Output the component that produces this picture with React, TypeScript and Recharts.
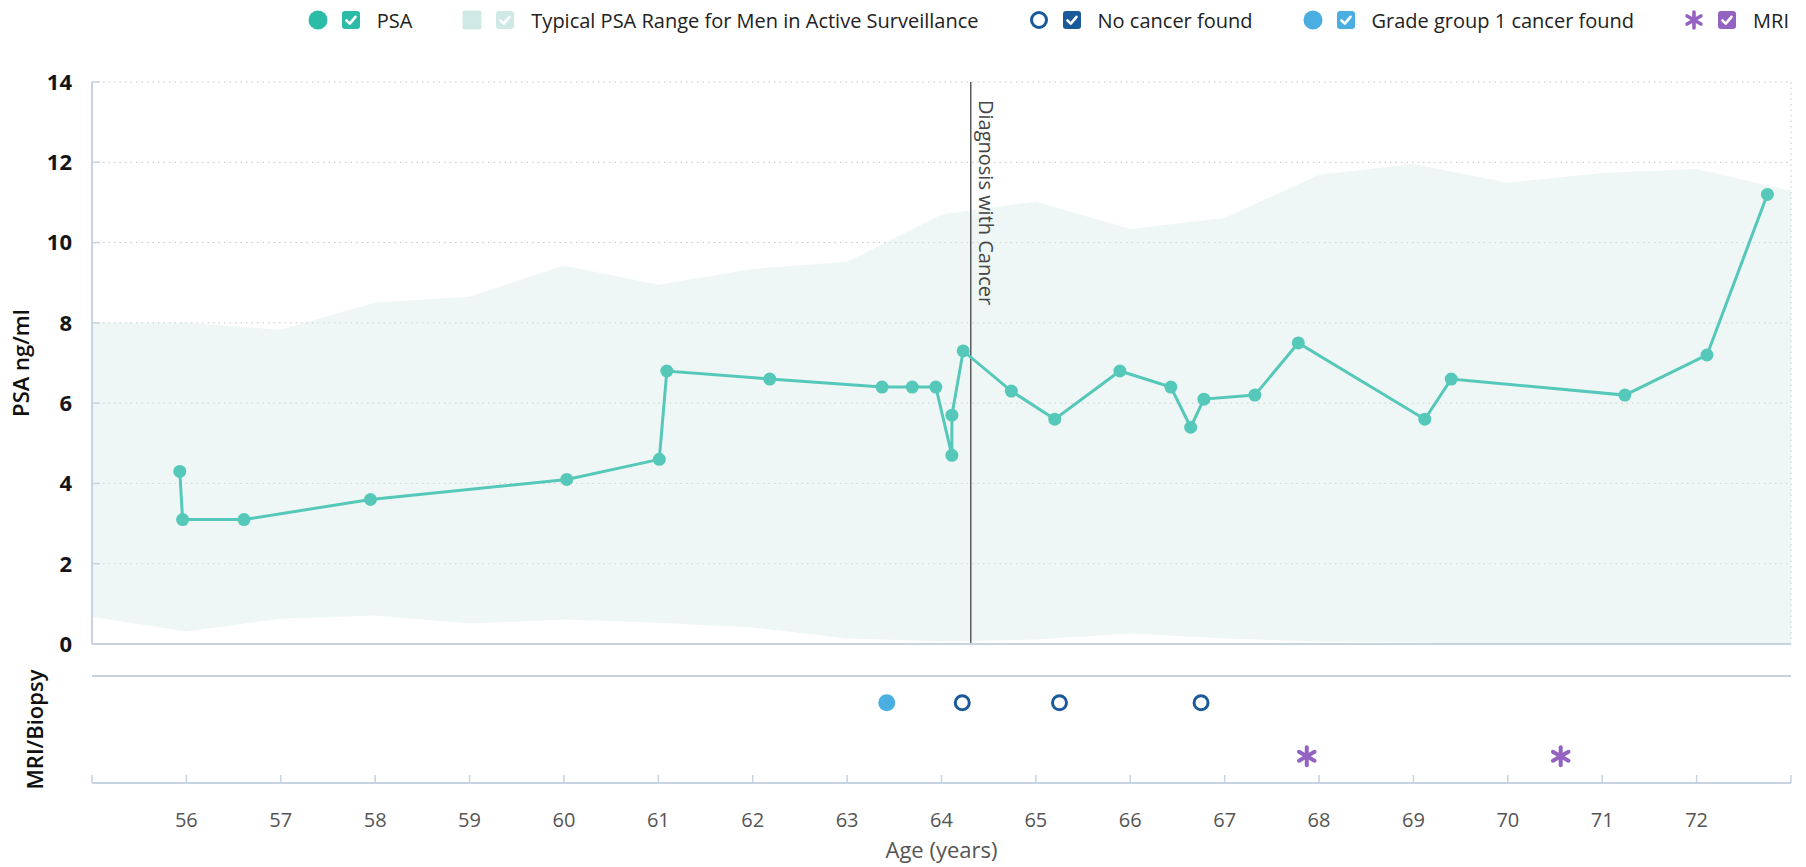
import React from 'react'
import { ComposedChart, Line, Area, Scatter, XAxis, YAxis, CartesianGrid, ReferenceLine } from 'recharts'

const ageTicks = [55, 56, 57, 58, 59, 60, 61, 62, 63, 64, 65, 66, 67, 68, 69, 70, 71, 72, 73]
const psaTicks = [0, 2, 4, 6, 8, 10, 12, 14]

// PSA measurements (age in years, ng/ml)
const psaAges = [55.93, 55.96, 56.61, 57.95, 60.03, 61.01, 61.09, 62.18, 63.37, 63.69, 63.94, 64.11, 64.11, 64.23, 64.74, 65.2, 65.89, 66.43, 66.64, 66.78, 67.32, 67.78, 69.12, 69.4, 71.24, 72.11, 72.75]
const psaValues = [4.3, 3.1, 3.1, 3.6, 4.1, 4.6, 6.8, 6.6, 6.4, 6.4, 6.4, 4.7, 5.7, 7.3, 6.3, 5.6, 6.8, 6.4, 5.4, 6.1, 6.2, 7.5, 5.6, 6.6, 6.2, 7.2, 11.2]

// typical range band
const bandAges = [55, 56, 57, 58, 59, 60, 61, 62, 63, 64, 65, 66, 67, 68, 69, 70, 71, 72, 73]
const bandLow = [0.68, 0.31, 0.63, 0.71, 0.51, 0.61, 0.53, 0.41, 0.14, 0.07, 0.11, 0.26, 0.14, 0.06, 0.03, 0.02, 0.02, 0.02, 0.02]
const bandHigh = [8.0, 8.0, 7.83, 8.51, 8.65, 9.43, 8.95, 9.34, 9.52, 10.7, 11.02, 10.34, 10.61, 11.69, 11.96, 11.49, 11.73, 11.83, 11.29]

// MRI / biopsy events
const gradeAges = [63.42]
const noCancerAges = [64.22, 65.25, 66.75]
const mriAges = [67.87, 70.56]
const biopsyRow = 3
const mriRow = 1

const diagnosisAge = 64.31

const teal = '#56c8ba'
const tealDark = '#2bbba7'
const bandColor = '#cfe9e4'
const navy = '#1b5a9a'
const skyBlue = '#4aafe0'
const purple = '#9463c2'
const axisColor = '#c6d3e3'
const font = '"Open Sans", sans-serif'

const psaData = psaAges.map((age, i) => ({ age, psa: psaValues[i] }))
const bandData = bandAges.map((age, i) => ({ age, range: [bandLow[i], bandHigh[i]] }))
const gradeData = gradeAges.map((age) => ({ age, row: biopsyRow }))
const noCancerData = noCancerAges.map((age) => ({ age, row: biopsyRow }))
const mriData = mriAges.map((age) => ({ age, row: mriRow }))

function Asterisk({ cx, cy, r, color, w = 4 }: { cx: number; cy: number; r: number; color: string; w?: number }) {
  return (
    <g>
      {[90, 30, 150].map((a) => {
        const dx = r * Math.cos((a * Math.PI) / 180)
        const dy = r * Math.sin((a * Math.PI) / 180)
        return <line key={a} x1={cx - dx} y1={cy - dy} x2={cx + dx} y2={cy + dy} stroke={color} strokeWidth={w} strokeLinecap="round" />
      })}
      <circle cx={cx} cy={cy} r={w * 0.8} fill={color} />
    </g>
  )
}

const Check = ({ color }: { color: string }) => (
  <svg width={18} height={18} style={{ display: 'block' }}>
    <rect x={0} y={0} width={18} height={18} rx={3} fill={color} />
    <path d="M4.5 9.5 L7.8 12.6 L13.5 5.8" fill="none" stroke="#fff" strokeWidth={2.6} strokeLinecap="round" strokeLinejoin="round" />
  </svg>
)

const legendItems = [
  { label: 'PSA', check: tealDark, marker: <circle cx={10} cy={10} r={9.5} fill={tealDark} /> },
  { label: 'Typical PSA Range for Men in Active Surveillance', check: bandColor, marker: <rect x={0.5} y={0.5} width={19} height={19} rx={2} fill={bandColor} /> },
  { label: 'No cancer found', check: navy, marker: <circle cx={10} cy={10} r={7.5} fill="#fff" stroke={navy} strokeWidth={3} /> },
  { label: 'Grade group 1 cancer found', check: skyBlue, marker: <circle cx={10} cy={10} r={9.5} fill={skyBlue} /> },
  { label: 'MRI', check: purple, marker: <Asterisk cx={10} cy={10} r={8} color={purple} w={3.6} /> },
]

function ChartLegend() {
  return (
    <div style={{ position: 'absolute', top: 8, right: 17, height: 24, display: 'flex', alignItems: 'center', gap: 50, fontFamily: font, fontSize: 20, color: '#222' }}>
      {legendItems.map((it) => (
        <div key={it.label} style={{ display: 'flex', alignItems: 'center' }}>
          <svg width={20} height={20} style={{ display: 'block', marginRight: 14 }}>{it.marker}</svg>
          <Check color={it.check} />
          <span style={{ marginLeft: 17, whiteSpace: 'nowrap' }}>{it.label}</span>
        </div>
      ))}
    </div>
  )
}

const sideLabel = (text: string, x: number) => (props: any) => {
  const vb = props.viewBox
  const cy = vb.y + vb.height / 2
  return (
    <text x={x} y={cy} transform={`rotate(-90 ${x} ${cy})`} textAnchor="middle" fill="#111" fontSize={22} fontWeight={600} fontFamily={font}>
      {text}
    </text>
  )
}

const DiagnosisLabel = (props: any) => {
  const vb = props.viewBox
  const x = vb.x + 8
  const y = vb.y + 18
  return (
    <text x={x} y={y} transform={`rotate(90 ${x} ${y})`} textAnchor="start" fill="#444" fontSize={20} fontFamily={font}>
      Diagnosis with Cancer
    </text>
  )
}

export default function App() {
  return (
    <div style={{ position: 'absolute', left: 0, top: 0, width: 1806, height: 867, background: '#fff', fontFamily: font }}>
      <ChartLegend />
      <div style={{ position: 'absolute', left: 0, top: 0 }}>
        <ComposedChart width={1806} height={680} margin={{ top: 82, right: 15, bottom: 0, left: 0 }}>
          <CartesianGrid stroke="#c4c4c4" strokeDasharray="1.5 4" />
          <XAxis
            type="number"
            dataKey="age"
            domain={[55, 73]}
            ticks={ageTicks}
            allowDataOverflow
            height={36}
            tick={false}
            tickSize={-8}
            axisLine={{ stroke: axisColor, strokeWidth: 2 }}
            tickLine={{ stroke: axisColor, strokeWidth: 1.5 }}
          />
          <YAxis
            type="number"
            domain={[0, 14]}
            ticks={psaTicks}
            width={92}
            tickSize={-8}
            tickMargin={28}
            axisLine={{ stroke: axisColor, strokeWidth: 2 }}
            tickLine={{ stroke: axisColor, strokeWidth: 1.5 }}
            tick={{ fill: '#151515', fontSize: 22, fontWeight: 700, fontFamily: font }}
            label={{ content: sideLabel('PSA ng/ml', 29) }}
          />
          <Area data={bandData} dataKey="range" type="linear" stroke="none" fill={bandColor} fillOpacity={0.36} isAnimationActive={false} />
          <ReferenceLine x={diagnosisAge} stroke="#5c5c5c" strokeWidth={1.5} label={{ content: DiagnosisLabel }} />
          <Line
            data={psaData}
            dataKey="psa"
            type="linear"
            stroke={teal}
            strokeWidth={3}
            dot={{ r: 6.5, fill: teal, stroke: 'none' }}
            activeDot={false}
            isAnimationActive={false}
          />
        </ComposedChart>
      </div>
      <div style={{ position: 'absolute', left: 0, top: 640 }}>
        <ComposedChart width={1806} height={227} margin={{ top: 36, right: 15, bottom: 0, left: 0 }}>
          <XAxis
            type="number"
            dataKey="age"
            domain={[55, 73]}
            ticks={ageTicks}
            allowDataOverflow
            height={84}
            tickSize={-8}
            tickMargin={38}
            tickFormatter={(v: number) => (v === 55 || v === 73 ? '' : String(v))}
            axisLine={{ stroke: axisColor, strokeWidth: 2 }}
            tickLine={{ stroke: axisColor, strokeWidth: 1.5 }}
            tick={{ fill: '#555', fontSize: 20, fontFamily: font }}
            label={{ value: 'Age (years)', position: 'insideBottom', offset: 9, fill: '#555', fontSize: 22, fontFamily: font }}
          />
          <YAxis
            type="number"
            dataKey="row"
            domain={[0, 4]}
            width={92}
            axisLine={false}
            tickLine={false}
            tick={false}
            label={{ content: sideLabel('MRI/Biopsy', 43) }}
          />
          <ReferenceLine y={4} stroke={axisColor} strokeWidth={2} />
          <Scatter data={gradeData} isAnimationActive={false} shape={(p: any) => <circle cx={p.cx} cy={p.cy} r={8.5} fill={skyBlue} />} />
          <Scatter data={noCancerData} isAnimationActive={false} shape={(p: any) => <circle cx={p.cx} cy={p.cy} r={7} fill="#fff" stroke={navy} strokeWidth={3} />} />
          <Scatter data={mriData} isAnimationActive={false} shape={(p: any) => <Asterisk cx={p.cx} cy={p.cy} r={9} color={purple} />} />
        </ComposedChart>
      </div>
    </div>
  )
}
